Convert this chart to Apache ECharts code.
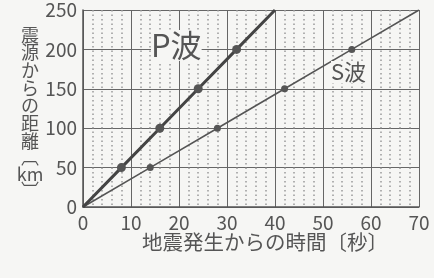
<!DOCTYPE html>
<html><head><meta charset="utf-8">
<script src="https://cdn.jsdelivr.net/npm/echarts@6/dist/echarts.min.js"></script>
<style>html,body{margin:0;padding:0;background:#f6f6f4;}#c{width:434px;height:278px;}</style>
</head><body><div id="c"></div>
<script>
// data
const pTimes = [0, 8, 16, 24, 32, 40];
const pDist  = [0, 50, 100, 150, 200, 250];
const sTimes = [0, 14, 28, 42, 56, 70];
const sDist  = [0, 50, 100, 150, 200, 250];
const xTicks = [0, 10, 20, 30, 40, 50, 60, 70];
const yTicks = [0, 50, 100, 150, 200, 250];
const xTitle = '地震発生からの時間〔秒〕';
const yTitleChars = ['震','源','か','ら','の','距','離','︹','km','︺'];
const pLabel = 'P波';
const sLabel = 'S波';

function pts(xs, ys, size){
  return xs.map((x,i)=>({value:[x, ys[i]], symbolSize: (i===0||i===xs.length-1)?0:size}));
}
const font = '"Noto Sans CJK JP", "Noto Sans", sans-serif';
const yTitleRich = yTitleChars.map(c => (c==='︹'||c==='︺') ? '{b|' + c + '}' : '{a|' + c + '}').join('\n');
const chart = echarts.init(document.getElementById('c'));
chart.setOption({
  backgroundColor: '#f6f6f4',
  animation: false,
  grid: {left: 83, right: 15, top: 10, bottom: 71},
  xAxis: {
    type: 'value', min: xTicks[0], max: xTicks[xTicks.length-1], interval: 10,
    axisLine: {show: true, lineStyle: {color: '#555', width: 1.5}},
    axisTick: {show: false},
    axisLabel: {color: '#555', fontSize: 19, fontFamily: font, margin: 6},
    splitLine: {show: true, lineStyle: {color: '#666', width: 1}},
    minorTick: {show: false, splitNumber: 5},
    minorSplitLine: {show: true, lineStyle: {color: '#999', width: 1.5, type: [1.5, 3]}}
  },
  yAxis: {
    type: 'value', min: yTicks[0], max: yTicks[yTicks.length-1], interval: 50,
    axisLine: {show: true, lineStyle: {color: '#555', width: 1.5}},
    axisTick: {show: false},
    axisLabel: {color: '#555', fontSize: 19, fontFamily: font, margin: 6},
    splitLine: {show: true, lineStyle: {color: '#666', width: 1}}
  },
  series: [
    {type: 'line', data: pts(pTimes, pDist, 9), symbol: 'circle',
     lineStyle: {color: '#444', width: 3}, itemStyle: {color: '#555'}, z: 5},
    {type: 'line', data: pts(sTimes, sDist, 7), symbol: 'circle',
     lineStyle: {color: '#555', width: 1.6}, itemStyle: {color: '#555'}, z: 4}
  ],
  graphic: [
    {type: 'text', left: 151, top: 30, z: 10, style: {text: pLabel, font: '31px ' + font, fill: '#555', backgroundColor: '#f6f6f4'}},
    {type: 'text', left: 331, top: 61, z: 10, style: {text: sLabel, font: '22px ' + font, fill: '#555', backgroundColor: '#f6f6f4'}},
    {type: 'text', left: 142, top: 232, style: {text: xTitle, font: '20.5px ' + font, fill: '#555'}},
    {type: 'text', x: 30, y: 26, style: {text: yTitleRich, align: 'center', fill: '#555',
      rich: {a: {fontSize: 18, fontFamily: font, lineHeight: 17.7, fill: '#555', align: 'center'},
             b: {fontSize: 18, fontFamily: font, lineHeight: 15, fill: '#555', align: 'center'}}}}
  ]
});
</script></body></html>
